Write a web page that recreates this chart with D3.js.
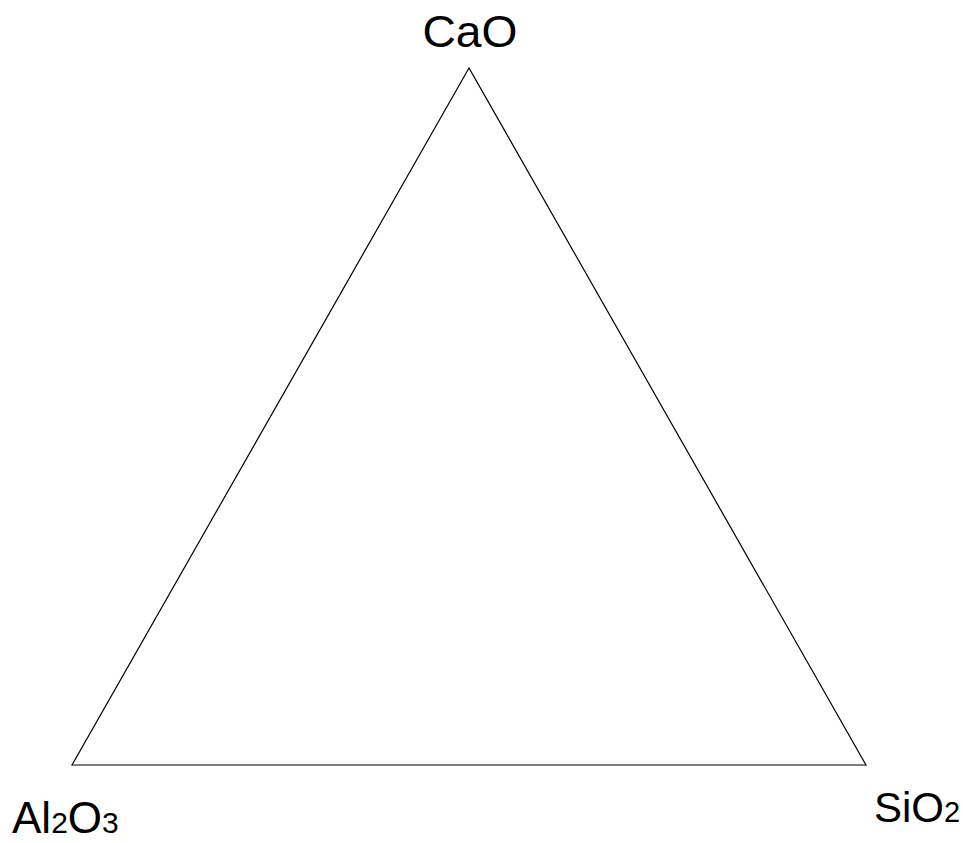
<!DOCTYPE html>
<html>
<head>
<meta charset="utf-8">
<script src="https://cdn.jsdelivr.net/npm/d3@7"></script>
<style>
  html, body { margin: 0; padding: 0; background: #fff; }
  svg { display: block; }
</style>
</head>
<body>
<div id="chart"></div>
<script>
// Ternary components (apex order: top, bottom-left, bottom-right)
const components = ["CaO", "Al2O3", "SiO2"];
// Triangle corners in ternary coordinates [CaO, Al2O3, SiO2]
const corners = [
  [1, 0, 0],
  [0, 1, 0],
  [0, 0, 1]
];

const W = 963, H = 843;
const svg = d3.select("#chart").append("svg")
  .attr("width", W).attr("height", H);

// Cartesian scales for the ternary plane
const xScale = d3.scaleLinear().domain([0, 1]).range([72, 866]);
const yScale = d3.scaleLinear().domain([0, 1]).range([765, 68]);

function project(t) {
  const sum = t[0] + t[1] + t[2];
  const a = t[0] / sum, c = t[2] / sum;
  const u = c + a / 2;   // horizontal fraction
  const v = a;           // height fraction
  return [xScale(u), yScale(v)];
}

const pts = corners.map(project);

svg.append("path")
  .attr("d", d3.line()(pts) + "Z")
  .attr("fill", "none")
  .attr("stroke", "#000")
  .attr("stroke-width", 1.2);

// Label placement relative to each corner
const labelOpts = [
  { anchor: "middle", dx: 1, dy: -21, size: 44, sub: 30, fit: 95 },
  { anchor: "start", dx: -60, dy: 68, size: 44, sub: 30, fit: null },
  { anchor: "start", dx: 8, dy: 57, size: 42, sub: 29, fit: null }
];

components.forEach((name, i) => {
  const p = pts[i];
  const o = labelOpts[i];
  const parts = name.match(/[A-Za-z]+|\d+/g);
  const text = svg.append("text")
    .attr("x", p[0] + o.dx)
    .attr("y", p[1] + o.dy)
    .attr("text-anchor", o.anchor)
    .attr("font-family", "'Liberation Sans', Arial, sans-serif")
    .attr("font-size", o.size)
    .attr("fill", "#000");
  if (o.fit) {
    text.attr("textLength", o.fit).attr("lengthAdjust", "spacingAndGlyphs").text(name);
  } else {
    parts.forEach(s => {
      text.append("tspan")
        .attr("font-size", /\d/.test(s) ? o.sub : o.size)
        .text(s);
    });
  }
});
</script>
</body>
</html>
